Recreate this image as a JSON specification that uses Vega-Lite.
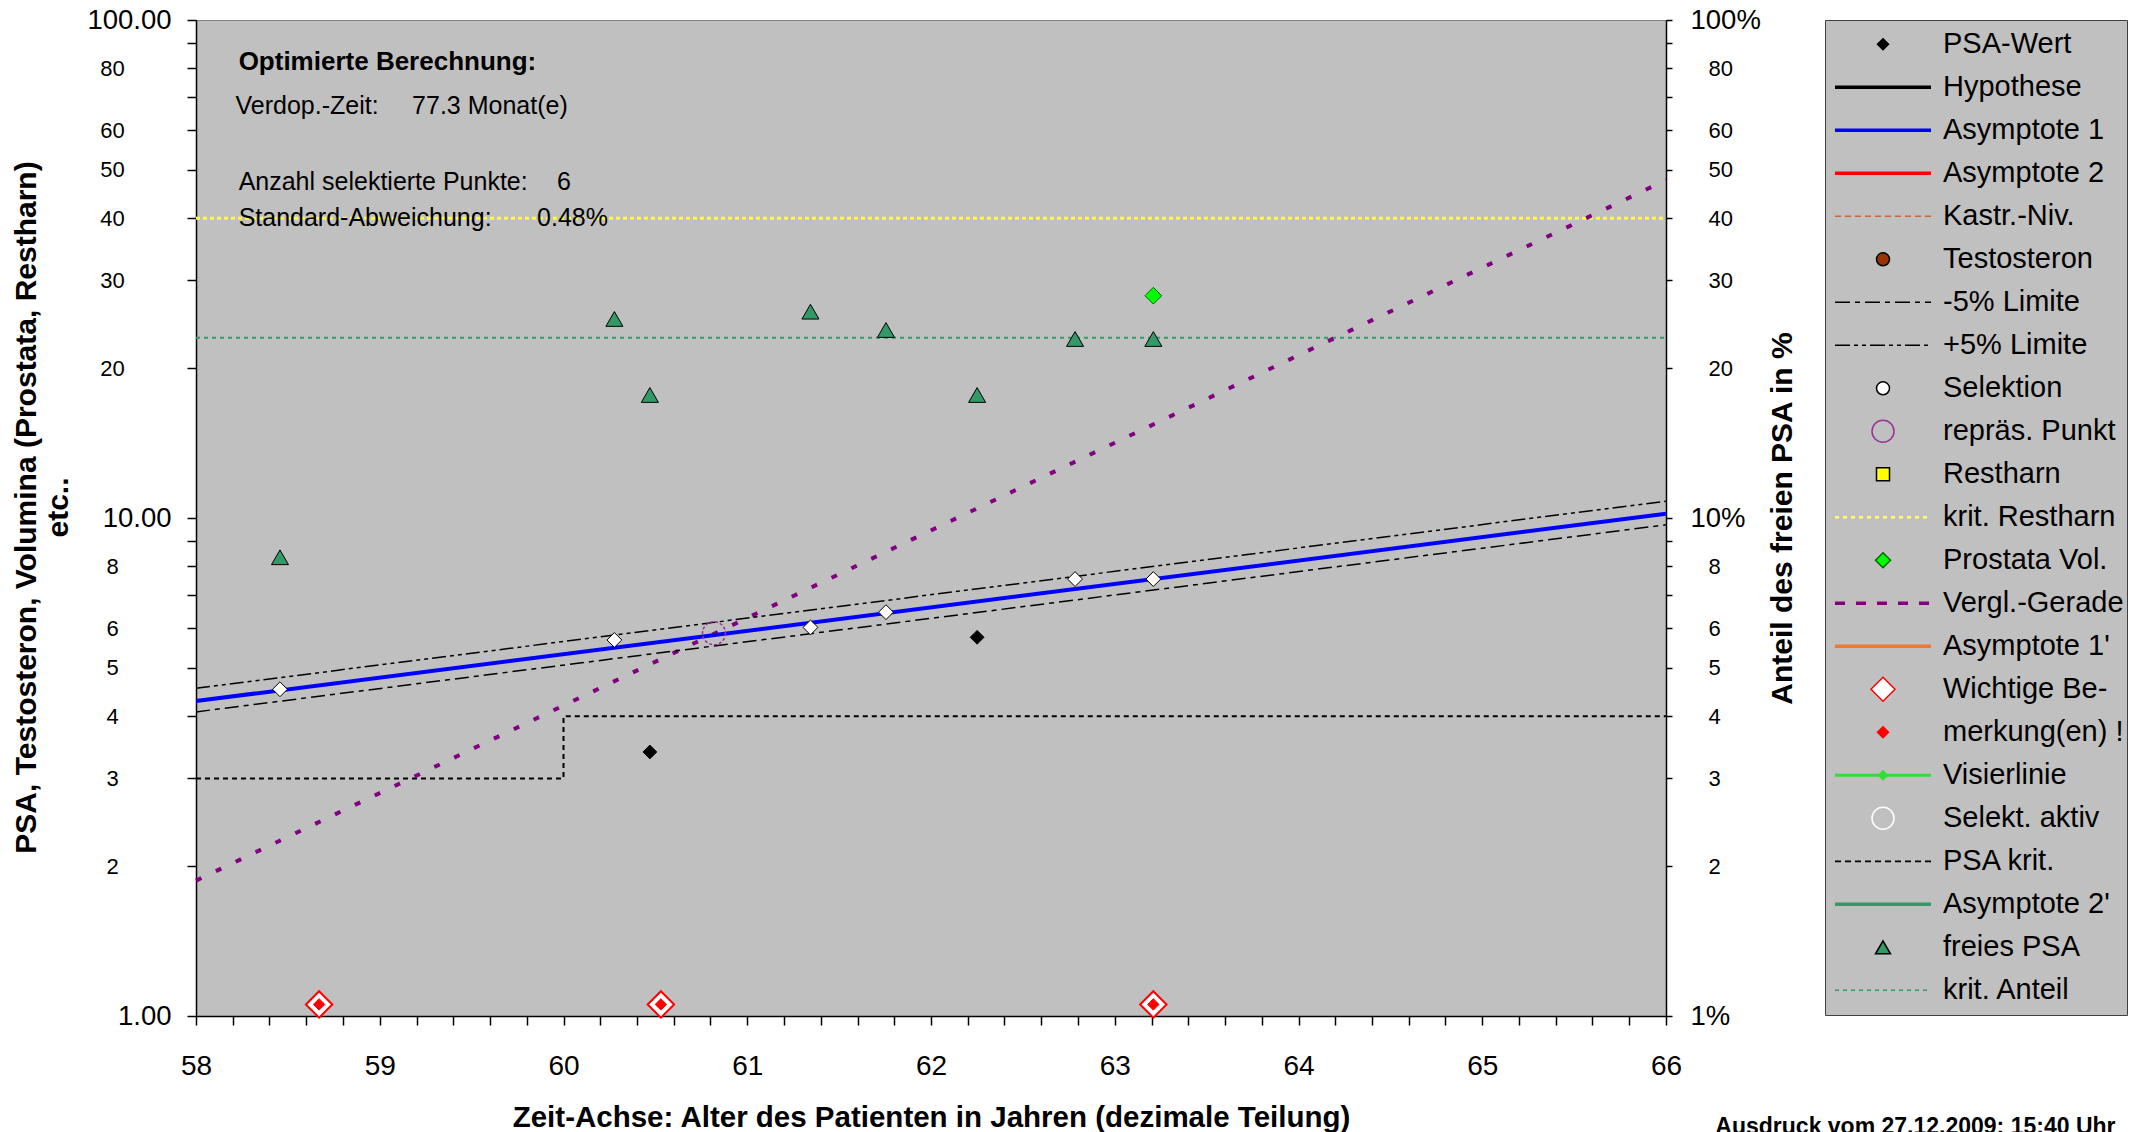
{
  "$schema": "https://vega.github.io/schema/vega-lite/v6.json",
  "width": 1470,
  "height": 996,
  "autosize": {"type": "none"},
  "padding": {"left": 196, "top": 20, "right": 479, "bottom": 116},
  "background": "white",
  "view": {"fill": "#C0C0C0", "stroke": "#808080", "strokeWidth": 1},
  "title": {"text": "Ausdruck vom 27.12.2009; 15:40 Uhr", "orient": "bottom", "anchor": "end", "frame": "bounds", "font": "Liberation Sans", "fontSize": 23, "fontWeight": "bold", "color": "black", "baseline": "top", "offset": -16.5, "dx": -12},
  "datasets": {
    "kritRestharn": [{"x": 58, "y": 40}, {"x": 66, "y": 40}],
    "kritAnteil": [{"x": 58, "y": 23}, {"x": 66, "y": 23}],
    "psaKrit": [{"x": 58, "y": 3}, {"x": 60, "y": 4}, {"x": 66, "y": 4}],
    "vergl": [{"x": 58, "y": 1.87}, {"x": 66, "y": 47.7}],
    "limitMinus": [{"x": 58, "y": 4.08}, {"x": 66, "y": 9.69}],
    "limitPlus": [{"x": 58, "y": 4.55}, {"x": 66, "y": 10.81}],
    "asymptote": [{"x": 58, "y": 4.29}, {"x": 66, "y": 10.2}],
    "psaWert": [{"x": 60.47, "y": 3.39}, {"x": 62.251, "y": 5.76}],
    "selektion": [{"x": 58.457, "y": 4.53}, {"x": 60.277, "y": 5.69}, {"x": 61.344, "y": 6.03}, {"x": 61.755, "y": 6.47}, {"x": 62.784, "y": 7.54}, {"x": 63.21, "y": 7.54}],
    "repraes": [{"x": 60.819, "y": 5.87}],
    "freiesPSA": [{"x": 58.457, "y": 8.34}, {"x": 60.277, "y": 25.1}, {"x": 60.47, "y": 17.66}, {"x": 61.344, "y": 25.96}, {"x": 61.755, "y": 23.85}, {"x": 62.251, "y": 17.66}, {"x": 62.784, "y": 22.88}, {"x": 63.21, "y": 22.88}],
    "prostata": [{"x": 63.21, "y": 27.95}],
    "bemerkung": [{"x": 58.67, "y": 1.055}, {"x": 60.53, "y": 1.055}, {"x": 63.21, "y": 1.055}],
    "notesBold": [{"x": 58.232, "y": 82.2, "t": "Optimierte Berechnung:"}],
    "notes": [{"x": 58.215, "y": 67.2, "t": "Verdop.-Zeit:"}, {"x": 59.176, "y": 67.2, "t": "77.3 Monat(e)"}, {"x": 58.232, "y": 47.3, "t": "Anzahl selektierte Punkte:"}, {"x": 59.965, "y": 47.3, "t": "6"}, {"x": 58.232, "y": 40.1, "t": "Standard-Abweichung:"}, {"x": 59.856, "y": 40.1, "t": "0.48%"}]
  },
  "layer": [
    {
      "data": {"name": "kritRestharn"},
      "mark": {"type": "line", "color": "#FFFF33", "strokeWidth": 3, "strokeDash": [4, 3]},
      "encoding": {
        "x": {"field": "x", "type": "quantitative", "scale": {"domain": [58, 66], "nice": false, "zero": false},
          "axis": {"orient": "bottom", "values": [58,58.2,58.4,58.6,58.8,59,59.2,59.4,59.6,59.8,60,60.2,60.4,60.6,60.8,61,61.2,61.4,61.6,61.8,62,62.2,62.4,62.6,62.8,63,63.2,63.4,63.6,63.8,64,64.2,64.4,64.6,64.8,65,65.2,65.4,65.6,65.8,66],
            "tickCount": 60, "tickSize": 9, "labelFontSize": 28, "labelPadding": 27, "labelOverlap": false, "labelFlush": false,
            "labelExpr": "abs(datum.value - round(datum.value)) < 0.001 ? format(datum.value, 'd') : ''",
            "title": "Zeit-Achse: Alter des Patienten in Jahren (dezimale Teilung)", "titleFontSize": 29.5, "titleFontWeight": "bold", "titlePadding": 23.5}},
        "y": {"field": "y", "type": "quantitative", "scale": {"type": "log", "domain": [1, 100], "nice": false},
          "axis": {"orient": "left", "values": [1,2,3,4,5,6,7,8,9,10,20,30,40,50,60,70,80,90,100], "tickCount": 40, "tickSize": 9, "labelAlign": "right", "labelPadding": 16, "labelFontSize": 27.5, "labelOverlap": false,
            "labelExpr": "datum.value == 100 ? '100.00' : datum.value == 10 ? '10.00' : datum.value == 1 ? '1.00' : ''",
            "title": ["PSA, Testosteron, Volumina (Prostata, Restharn)", "etc.."], "titleFontSize": 30, "titleFontWeight": "bold", "titlePadding": 13, "titleLineHeight": 32, "titleY": 487}}
      }
    },
    {
      "data": {"name": "kritAnteil"},
      "mark": {"type": "line", "color": "#339966", "strokeWidth": 2, "strokeDash": [4, 4]},
      "encoding": {
        "x": {"field": "x", "type": "quantitative", "scale": {"domain": [58, 66], "nice": false, "zero": false}},
        "y": {"field": "y", "type": "quantitative", "scale": {"type": "log", "domain": [1, 100], "nice": false},
          "axis": {"orient": "left", "values": [2,3,4,5,6,8,20,30,40,50,60,80], "tickCount": 40, "ticks": false, "tickSize": 0, "domain": false, "labelAlign": "center", "labelPadding": 84, "labelFontSize": 22, "labelOverlap": false, "labelExpr": "format(datum.value, 'd')", "title": null}}
      }
    },
    {
      "data": {"name": "psaKrit"},
      "mark": {"type": "line", "color": "black", "strokeWidth": 2, "strokeDash": [5, 4], "interpolate": "step-after"},
      "encoding": {
        "x": {"field": "x", "type": "quantitative", "scale": {"domain": [58, 66], "nice": false, "zero": false}},
        "y": {"field": "y", "type": "quantitative", "scale": {"type": "log", "domain": [1, 100], "nice": false},
          "axis": {"orient": "right", "values": [1,2,3,4,5,6,7,8,9,10,20,30,40,50,60,70,80,90,100], "tickCount": 40, "tickSize": 6, "labelAlign": "left", "labelPadding": 18, "labelFontSize": 27.5, "labelOverlap": false,
            "labelExpr": "datum.value == 100 ? '100%' : datum.value == 10 ? '10%' : datum.value == 1 ? '1%' : ''",
            "title": "Anteil des freien PSA in %", "titleFontSize": 30, "titleFontWeight": "bold", "titleAngle": 270, "titleBaseline": "top", "titlePadding": 7}}
      }
    },
    {
      "data": {"name": "vergl"},
      "mark": {"type": "line", "color": "#800080", "strokeWidth": 4, "strokeDash": [6, 16]},
      "encoding": {
        "x": {"field": "x", "type": "quantitative", "scale": {"domain": [58, 66], "nice": false, "zero": false}},
        "y": {"field": "y", "type": "quantitative", "scale": {"type": "log", "domain": [1, 100], "nice": false},
          "axis": {"orient": "right", "values": [2,3,4,5,6,8,20,30,40,50,60,80], "tickCount": 40, "ticks": false, "tickSize": 0, "domain": false, "labelAlign": "left", "labelPadding": 42, "labelFontSize": 22, "labelOverlap": false, "labelExpr": "format(datum.value, 'd')", "title": null}}
      }
    },
    {
      "data": {"name": "limitMinus"},
      "mark": {"type": "line", "color": "black", "strokeWidth": 1.5, "strokeDash": [14, 5, 5, 5]},
      "encoding": {
        "x": {"field": "x", "type": "quantitative", "scale": {"domain": [58, 66], "nice": false, "zero": false}},
        "y": {"field": "y", "type": "quantitative", "scale": {"type": "log", "domain": [1, 100], "nice": false}, "axis": null}
      }
    },
    {
      "data": {"name": "limitPlus"},
      "mark": {"type": "line", "color": "black", "strokeWidth": 1.5, "strokeDash": [14, 4, 4, 4, 4, 4]},
      "encoding": {
        "x": {"field": "x", "type": "quantitative", "scale": {"domain": [58, 66], "nice": false, "zero": false}},
        "y": {"field": "y", "type": "quantitative", "scale": {"type": "log", "domain": [1, 100], "nice": false}, "axis": null}
      }
    },
    {
      "data": {"name": "asymptote"},
      "mark": {"type": "line", "color": "#0000FF", "strokeWidth": 4},
      "encoding": {
        "x": {"field": "x", "type": "quantitative", "scale": {"domain": [58, 66], "nice": false, "zero": false}},
        "y": {"field": "y", "type": "quantitative", "scale": {"type": "log", "domain": [1, 100], "nice": false}, "axis": null}
      }
    },
    {
      "data": {"name": "psaWert"},
      "mark": {"type": "point", "shape": "diamond", "filled": true, "fill": "black", "stroke": "black", "strokeWidth": 1, "size": 190, "opacity": 1},
      "encoding": {
        "x": {"field": "x", "type": "quantitative", "scale": {"domain": [58, 66], "nice": false, "zero": false}},
        "y": {"field": "y", "type": "quantitative", "scale": {"type": "log", "domain": [1, 100], "nice": false}, "axis": null}
      }
    },
    {
      "data": {"name": "selektion"},
      "mark": {"type": "point", "shape": "diamond", "filled": true, "fill": "white", "stroke": "black", "strokeWidth": 1, "size": 220, "opacity": 1},
      "encoding": {
        "x": {"field": "x", "type": "quantitative", "scale": {"domain": [58, 66], "nice": false, "zero": false}},
        "y": {"field": "y", "type": "quantitative", "scale": {"type": "log", "domain": [1, 100], "nice": false}, "axis": null}
      }
    },
    {
      "data": {"name": "repraes"},
      "mark": {"type": "point", "shape": "circle", "filled": false, "fill": "transparent", "stroke": "#993399", "strokeWidth": 1.5, "strokeDash": [3, 2], "size": 530, "opacity": 1},
      "encoding": {
        "x": {"field": "x", "type": "quantitative", "scale": {"domain": [58, 66], "nice": false, "zero": false}},
        "y": {"field": "y", "type": "quantitative", "scale": {"type": "log", "domain": [1, 100], "nice": false}, "axis": null}
      }
    },
    {
      "data": {"name": "freiesPSA"},
      "mark": {"type": "point", "shape": "triangle-up", "filled": true, "fill": "#339966", "stroke": "black", "strokeWidth": 1, "size": 290, "opacity": 1},
      "encoding": {
        "x": {"field": "x", "type": "quantitative", "scale": {"domain": [58, 66], "nice": false, "zero": false}},
        "y": {"field": "y", "type": "quantitative", "scale": {"type": "log", "domain": [1, 100], "nice": false}, "axis": null}
      }
    },
    {
      "data": {"name": "prostata"},
      "mark": {"type": "point", "shape": "diamond", "filled": true, "fill": "#00FF00", "stroke": "#006600", "strokeWidth": 1, "size": 280, "opacity": 1},
      "encoding": {
        "x": {"field": "x", "type": "quantitative", "scale": {"domain": [58, 66], "nice": false, "zero": false}},
        "y": {"field": "y", "type": "quantitative", "scale": {"type": "log", "domain": [1, 100], "nice": false}, "axis": null}
      }
    },
    {
      "data": {"name": "bemerkung"},
      "mark": {"type": "point", "shape": "diamond", "filled": true, "fill": "white", "stroke": "#FF0000", "strokeWidth": 2, "size": 700, "opacity": 1},
      "encoding": {
        "x": {"field": "x", "type": "quantitative", "scale": {"domain": [58, 66], "nice": false, "zero": false}},
        "y": {"field": "y", "type": "quantitative", "scale": {"type": "log", "domain": [1, 100], "nice": false}, "axis": null}
      }
    },
    {
      "data": {"name": "bemerkung"},
      "mark": {"type": "point", "shape": "diamond", "filled": true, "fill": "#FF0000", "stroke": "#FF0000", "strokeWidth": 1, "size": 130, "opacity": 1},
      "encoding": {
        "x": {"field": "x", "type": "quantitative", "scale": {"domain": [58, 66], "nice": false, "zero": false}},
        "y": {"field": "y", "type": "quantitative", "scale": {"type": "log", "domain": [1, 100], "nice": false}, "axis": null}
      }
    },
    {
      "data": {"name": "notesBold"},
      "mark": {"type": "text", "align": "left", "baseline": "middle", "font": "Liberation Sans", "fontSize": 26, "fontWeight": "bold", "color": "black"},
      "encoding": {
        "x": {"field": "x", "type": "quantitative", "scale": {"domain": [58, 66], "nice": false, "zero": false}},
        "y": {"field": "y", "type": "quantitative", "scale": {"type": "log", "domain": [1, 100], "nice": false}, "axis": null},
        "text": {"field": "t", "type": "nominal"}
      }
    },
    {
      "data": {"name": "notes"},
      "mark": {"type": "text", "align": "left", "baseline": "middle", "font": "Liberation Sans", "fontSize": 25, "color": "black"},
      "encoding": {
        "x": {"field": "x", "type": "quantitative", "scale": {"domain": [58, 66], "nice": false, "zero": false}},
        "y": {"field": "y", "type": "quantitative", "scale": {"type": "log", "domain": [1, 100], "nice": false}, "axis": null},
        "text": {"field": "t", "type": "nominal"}
      }
    },
    {
      "data": {"values": []},
      "mark": {"type": "point", "filled": true, "opacity": 1, "size": 10000},
      "encoding": {
        "shape": {"field": "s", "type": "nominal",
          "scale": {
            "domain": ["PSA-Wert", "Hypothese", "Asymptote 1", "Asymptote 2", "Kastr.-Niv.", "Testosteron", "-5% Limite", "+5% Limite", "Selektion", "repräs. Punkt", "Restharn", "krit. Restharn", "Prostata Vol.", "Vergl.-Gerade", "Asymptote 1'", "Wichtige Be-", "merkung(en) !", "Visierlinie", "Selekt. aktiv", "PSA krit.", "Asymptote 2'", "freies PSA", "krit. Anteil"],
            "range": [
              "M0,-0.11L0.11,0L0,0.11L-0.11,0Z",
              "M-0.96,-0.035H0.96V0.035H-0.96Z",
              "M-0.96,-0.035H0.96V0.035H-0.96Z",
              "M-0.96,-0.035H0.96V0.035H-0.96Z",
              "M-0.96,-0.015H-0.84V0.015H-0.96ZM-0.76,-0.015H-0.64V0.015H-0.76ZM-0.56,-0.015H-0.44V0.015H-0.56ZM-0.36,-0.015H-0.24V0.015H-0.36ZM-0.16,-0.015H-0.04V0.015H-0.16ZM0.04,-0.015H0.16V0.015H0.04ZM0.24,-0.015H0.36V0.015H0.24ZM0.44,-0.015H0.56V0.015H0.44ZM0.64,-0.015H0.76V0.015H0.64ZM0.84,-0.015H0.96V0.015H0.84Z",
              "M-0.13,0A0.13,0.13,0,1,1,0.13,0A0.13,0.13,0,1,1,-0.13,0Z",
              "M-0.96,-0.015H-0.66V0.015H-0.96ZM-0.56,-0.015H-0.46V0.015H-0.56ZM-0.36,-0.015H-0.06V0.015H-0.36ZM0.04,-0.015H0.14V0.015H0.04ZM0.24,-0.015H0.54V0.015H0.24ZM0.64,-0.015H0.74V0.015H0.64ZM0.84,-0.015H0.96V0.015H0.84Z",
              "M-0.96,-0.015H-0.66V0.015H-0.96ZM-0.58,-0.015H-0.5V0.015H-0.58ZM-0.42,-0.015H-0.34V0.015H-0.42ZM-0.26,-0.015H0.04V0.015H-0.26ZM0.12,-0.015H0.2V0.015H0.12ZM0.28,-0.015H0.36V0.015H0.28ZM0.44,-0.015H0.74V0.015H0.44ZM0.82,-0.015H0.9V0.015H0.82Z",
              "M-0.13,0A0.13,0.13,0,1,1,0.13,0A0.13,0.13,0,1,1,-0.13,0Z",
              "M-0.22,0A0.22,0.22,0,1,1,0.22,0A0.22,0.22,0,1,1,-0.22,0Z",
              "M-0.13,-0.13H0.13V0.13H-0.13Z",
              "M-0.96,-0.025H-0.88V0.025H-0.96ZM-0.8,-0.025H-0.72V0.025H-0.8ZM-0.64,-0.025H-0.56V0.025H-0.64ZM-0.48,-0.025H-0.4V0.025H-0.48ZM-0.32,-0.025H-0.24V0.025H-0.32ZM-0.16,-0.025H-0.08V0.025H-0.16ZM0,-0.025H0.08V0.025H0ZM0.16,-0.025H0.24V0.025H0.16ZM0.32,-0.025H0.4V0.025H0.32ZM0.48,-0.025H0.56V0.025H0.48ZM0.64,-0.025H0.72V0.025H0.64ZM0.8,-0.025H0.88V0.025H0.8Z",
              "M0,-0.15L0.15,0L0,0.15L-0.15,0Z",
              "M-0.96,-0.035H-0.76V0.035H-0.96ZM-0.54,-0.035H-0.34V0.035H-0.54ZM-0.12,-0.035H0.08V0.035H-0.12ZM0.3,-0.035H0.5V0.035H0.3ZM0.72,-0.035H0.92V0.035H0.72Z",
              "M-0.96,-0.035H0.96V0.035H-0.96Z",
              "M0,-0.24L0.24,0L0,0.24L-0.24,0Z",
              "M0,-0.11L0.11,0L0,0.11L-0.11,0Z",
              "M-0.96,-0.03H0.96V0.03H-0.96ZM0,-0.11L0.11,0L0,0.11L-0.11,0Z",
              "M-0.22,0A0.22,0.22,0,1,1,0.22,0A0.22,0.22,0,1,1,-0.22,0Z",
              "M-0.96,-0.018H-0.84V0.018H-0.96ZM-0.76,-0.018H-0.64V0.018H-0.76ZM-0.56,-0.018H-0.44V0.018H-0.56ZM-0.36,-0.018H-0.24V0.018H-0.36ZM-0.16,-0.018H-0.04V0.018H-0.16ZM0.04,-0.018H0.16V0.018H0.04ZM0.24,-0.018H0.36V0.018H0.24ZM0.44,-0.018H0.56V0.018H0.44ZM0.64,-0.018H0.76V0.018H0.64ZM0.84,-0.018H0.96V0.018H0.84Z",
              "M-0.96,-0.035H0.96V0.035H-0.96Z",
              "M0,-0.13L0.15,0.13L-0.15,0.13Z",
              "M-0.96,-0.015H-0.88V0.015H-0.96ZM-0.8,-0.015H-0.72V0.015H-0.8ZM-0.64,-0.015H-0.56V0.015H-0.64ZM-0.48,-0.015H-0.4V0.015H-0.48ZM-0.32,-0.015H-0.24V0.015H-0.32ZM-0.16,-0.015H-0.08V0.015H-0.16ZM0,-0.015H0.08V0.015H0ZM0.16,-0.015H0.24V0.015H0.16ZM0.32,-0.015H0.4V0.015H0.32ZM0.48,-0.015H0.56V0.015H0.48ZM0.64,-0.015H0.72V0.015H0.64ZM0.8,-0.015H0.88V0.015H0.8Z"
            ]},
          "legend": {"title": null, "orient": "right", "offset": 27, "padding": 3, "fillColor": "#C0C0C0", "strokeColor": "#404040", "symbolSize": 10000, "symbolStrokeWidth": 1.5, "symbolOffset": 4, "symbolFillColor": "black", "symbolStrokeColor": "black", "labelFont": "Liberation Sans", "labelFontSize": 29, "labelColor": "black", "labelOffset": 9, "labelLimit": 400, "clipHeight": 42.6, "rowPadding": 0, "direction": "vertical"}},
        "fill": {"field": "s", "type": "nominal",
          "scale": {
            "domain": ["PSA-Wert", "Hypothese", "Asymptote 1", "Asymptote 2", "Kastr.-Niv.", "Testosteron", "-5% Limite", "+5% Limite", "Selektion", "repräs. Punkt", "Restharn", "krit. Restharn", "Prostata Vol.", "Vergl.-Gerade", "Asymptote 1'", "Wichtige Be-", "merkung(en) !", "Visierlinie", "Selekt. aktiv", "PSA krit.", "Asymptote 2'", "freies PSA", "krit. Anteil"],
            "range": ["black", "black", "#0000FF", "#FF0000", "#CC6633", "#993300", "black", "black", "white", "transparent", "#FFFF00", "#FFFF66", "#00FF00", "#800080", "#F07830", "white", "#FF0000", "#33DD33", "transparent", "black", "#339966", "#339966", "#339966"]},
          "legend": {"title": null}},
        "stroke": {"field": "s", "type": "nominal",
          "scale": {
            "domain": ["PSA-Wert", "Hypothese", "Asymptote 1", "Asymptote 2", "Kastr.-Niv.", "Testosteron", "-5% Limite", "+5% Limite", "Selektion", "repräs. Punkt", "Restharn", "krit. Restharn", "Prostata Vol.", "Vergl.-Gerade", "Asymptote 1'", "Wichtige Be-", "merkung(en) !", "Visierlinie", "Selekt. aktiv", "PSA krit.", "Asymptote 2'", "freies PSA", "krit. Anteil"],
            "range": ["black", "transparent", "transparent", "transparent", "transparent", "black", "transparent", "transparent", "black", "#993399", "black", "transparent", "#006600", "transparent", "transparent", "#FF0000", "#FF0000", "transparent", "white", "transparent", "transparent", "black", "transparent"]},
          "legend": {"title": null}}
      }
    }
  ],
  "resolve": {"scale": {"x": "shared", "y": "shared"}, "axis": {"x": "shared", "y": "independent"}},
  "config": {
    "view": {"fill": "#C0C0C0", "stroke": "#808080", "strokeWidth": 1},
    "font": "Liberation Sans",
    "axis": {"grid": false, "domainColor": "black", "tickColor": "black", "labelColor": "black", "titleColor": "black", "labelFont": "Liberation Sans", "titleFont": "Liberation Sans", "domainWidth": 1.5, "tickWidth": 1.5, "labelOverlap": false, "labelFlush": false}
  }
}
